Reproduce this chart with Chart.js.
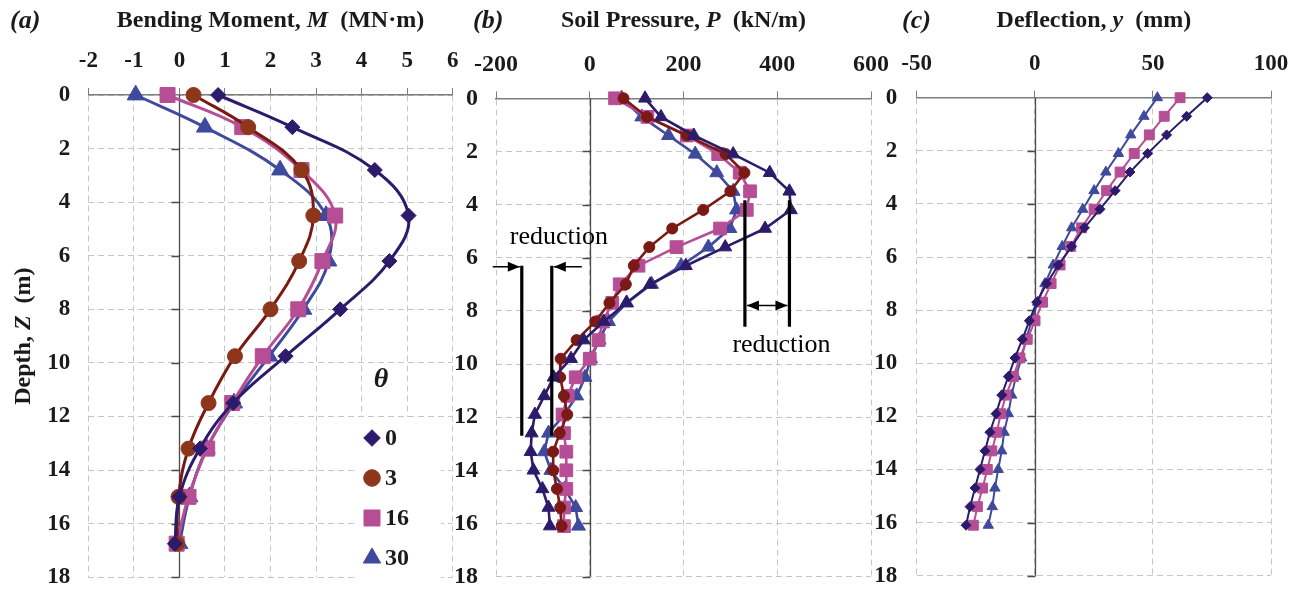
<!DOCTYPE html>
<html>
<head>
<meta charset="utf-8">
<script src="https://cdn.jsdelivr.net/npm/chart.js"></script>
<style>
  html, body { margin: 0; padding: 0; background: #fff; }
  #wrap { position: relative; width: 1307px; height: 609px; }
  #wrap canvas { position: absolute; left: 0; top: 0; }
</style>
</head>
<body>
<div id="wrap">
  <canvas id="chartMoment" width="1307" height="609"></canvas>
  <canvas id="chartPressure" width="1307" height="609"></canvas>
  <canvas id="chartDeflection" width="1307" height="609"></canvas>
</div>
<script>
/* ---------- data ---------- */
// theta cases
const thetaLabels = ['0', '3', '16', '30'];

// (a) bending moment M (MN·m) against depth Z (m)
const depthMoment = [0, 1.2, 2.8, 4.5, 6.2, 8.0, 9.75, 11.5, 13.2, 15.0, 16.75];
const moment0  = [0.85, 2.48, 4.29, 5.03, 4.61, 3.53, 2.33, 1.18, 0.45, 0.0, -0.1];
const moment3  = [0.31, 1.51, 2.68, 2.94, 2.63, 2.0, 1.22, 0.64, 0.2, -0.02, -0.05];
const moment16 = [-0.26, 1.38, 2.68, 3.42, 3.14, 2.61, 1.83, 1.16, 0.61, 0.2, -0.06];
const moment30 = [-0.96, 0.56, 2.21, 3.22, 3.27, 2.72, 1.97, 1.2, 0.6, 0.22, 0.0];

// (b) soil pressure P (kN/m)
const depthPressure = [0, 0.7, 1.4, 2.1, 2.8, 3.5, 4.2, 4.9, 5.6, 6.3, 7.0, 7.7,
                       8.4, 9.1, 9.8, 10.5, 11.2, 11.9, 12.6, 13.3, 14.0, 14.7, 15.4, 16.1];
const pressure0  = [118, 152, 222, 306, 384, 426, 429, 374, 289, 205, 129, 78,
                    30, -13, -40, -77, -97, -117, -124, -126, -120, -101, -88, -85];
const pressure3  = [72, 122, 207, 290, 330, 300, 242, 176, 127, 94, 77, 42,
                    12, -28, -62, -63, -55, -48, -64, -78, -78, -70, -63, -60];
const pressure16 = [54, 123, 207, 274, 320, 342, 335, 278, 185, 104, 64, 48,
                    28, 19, 0, -30, -47, -58, -55, -50, -50, -50, -55, -55];
const pressure30 = [68, 111, 168, 225, 271, 306, 313, 299, 253, 195, 132, 79,
                    40, 20, 2, -10, -28, -54, -88, -97, -83, -53, -30, -24];

// (c) deflection y (mm)
const depthDeflection = [0, 0.7, 1.4, 2.1, 2.8, 3.5, 4.2, 4.9, 5.6, 6.3, 7.0, 7.7,
                         8.4, 9.1, 9.8, 10.5, 11.2, 11.9, 12.6, 13.3, 14.0, 14.7, 15.4, 16.1];
const deflection0  = [73.0, 64.3, 55.8, 47.8, 40.3, 34.0, 27.6, 21.0, 15.6, 10.0, 5.0, 0.8,
                      -2.3, -5.3, -8.4, -11.2, -14.0, -16.4, -19.0, -21.1, -23.2, -25.3, -27.4, -29.1];
const deflection16 = [61.5, 54.8, 48.5, 42.1, 36.1, 30.4, 25.1, 19.8, 15.2, 10.7, 6.9, 3.3,
                      0.1, -3.2, -6.3, -9.1, -12.2, -14.4, -16.1, -18.2, -20.1, -22.1, -24.3, -26.0];
const deflection30 = [51.9, 46.2, 40.6, 35.4, 30.1, 25.1, 20.3, 15.6, 11.6, 7.8, 4.3, 1.2,
                      -1.3, -3.7, -5.6, -8.0, -9.8, -11.2, -13.0, -14.0, -15.5, -16.9, -18.0, -19.7];

// "reduction" markers in (b): [x1, x2, depth top, depth bottom]
const reductionLow  = [-145, -81, 6.3, 12.7];
const reductionPeak = [331, 426, 3.84, 8.6];

/* ---------- styling ---------- */
const NAVY = '#2c1b6b';
const MAROON = '#7a1812';
const BRICK = '#8d361b';
const PINK = '#b64e95';
const BLUE = '#3f4a9c';
const INK = '#1a1a1a';
const SERIF = '"Liberation Serif", "Times New Roman", serif';

function series(label, depths, values, style) {
  return Object.assign({
    label: label,
    data: depths.map((z, i) => ({ x: values[i], y: z })),
    showLine: true,
    clip: false,
    pointBorderWidth: 1
  }, style);
}

// vertical axis line at x = 0 with small ticks pointing left
const zeroAxis = {
  id: 'zeroAxis',
  beforeDatasetsDraw(chart) {
    const { ctx, chartArea: a, scales: { x, y } } = chart;
    const px = Math.round(x.getPixelForValue(0)) + 0.5;
    ctx.save();
    ctx.strokeStyle = '#4a4a4a';
    ctx.lineWidth = 1.3;
    ctx.beginPath();
    ctx.moveTo(px, a.top);
    ctx.lineTo(px, a.bottom);
    for (let z = 2; z <= 18; z += 2) {
      const py = Math.round(y.getPixelForValue(z)) + 0.5;
      ctx.moveTo(px - 8, py);
      ctx.lineTo(px, py);
    }
    ctx.stroke();
    ctx.restore();
  }
};

function drawRich(ctx, parts, x, y, size) {
  parts.forEach(p => {
    ctx.font = (p[1] ? 'italic ' : '') + 'bold ' + size + 'px ' + SERIF;
    ctx.fillText(p[0], x, y);
    x += ctx.measureText(p[0]).width;
  });
}

function richWidth(ctx, parts, size) {
  let w = 0;
  parts.forEach(p => {
    ctx.font = (p[1] ? 'italic ' : '') + 'bold ' + size + 'px ' + SERIF;
    w += ctx.measureText(p[0]).width;
  });
  return w;
}

// panel tag "(a)" and the axis heading above the ticks
function heading(tag, tagX, parts) {
  return {
    id: 'heading',
    afterDraw(chart) {
      const { ctx, chartArea: a } = chart;
      ctx.save();
      ctx.fillStyle = INK;
      ctx.textBaseline = 'alphabetic';
      ctx.textAlign = 'left';
      ctx.font = 'italic bold 26px ' + SERIF;
      ctx.fillText(tag, tagX, 28);
      const w = richWidth(ctx, parts, 24);
      drawRich(ctx, parts, (a.left + a.right) / 2 - w / 2, 27, 24);
      ctx.restore();
    }
  };
}

const depthTitle = {
  id: 'depthTitle',
  afterDraw(chart) {
    const { ctx, chartArea: a } = chart;
    const parts = [['Depth, ', false], ['Z', true], ['  (m)', false]];
    ctx.save();
    ctx.translate(30, (a.top + a.bottom) / 2);
    ctx.rotate(-Math.PI / 2);
    ctx.fillStyle = INK;
    ctx.textBaseline = 'alphabetic';
    const w = richWidth(ctx, parts, 24);
    drawRich(ctx, parts, -w / 2, 0, 24);
    ctx.restore();
  }
};

// theta legend inside panel (a)
const legendRadius = [8.3, 8.3, 11.3, 10];
const thetaLegend = {
  id: 'thetaLegend',
  afterDatasetsDraw(chart) {
    const { ctx } = chart;
    ctx.save();
    ctx.fillStyle = '#fff';
    ctx.fillRect(357, 417, 84, 170);
    ctx.fillRect(368, 364, 26, 32);
    ctx.fillStyle = INK;
    ctx.font = 'italic bold 28px ' + SERIF;
    ctx.textAlign = 'center';
    ctx.textBaseline = 'middle';
    ctx.fillText('θ', 381, 380);
    ctx.textAlign = 'left';
    ctx.font = 'bold 24px ' + SERIF;
    chart.data.datasets.forEach((ds, i) => {
      const y = 438 + i * 40;
      ctx.fillStyle = ds.pointBackgroundColor || ds.backgroundColor;
      ctx.strokeStyle = ds.pointBorderColor || ds.backgroundColor;
      ctx.lineWidth = 1;
      Chart.helpers.drawPoint(ctx, { pointStyle: ds.pointStyle, radius: legendRadius[i], borderWidth: 1, rotation: 0 }, 372, y);
      ctx.fillStyle = INK;
      ctx.fillText(ds.label, 385, y + 1);
    });
    ctx.restore();
  }
};

function arrowHead(ctx, x, y, dir) {
  ctx.beginPath();
  ctx.moveTo(x, y);
  ctx.lineTo(x - dir * 12, y - 5);
  ctx.lineTo(x - dir * 12, y + 5);
  ctx.closePath();
  ctx.fill();
}

// reduction brackets in panel (b)
const reductionMarks = {
  id: 'reductionMarks',
  afterDatasetsDraw(chart) {
    const { ctx, scales: { x, y } } = chart;
    ctx.save();
    ctx.strokeStyle = '#000';
    ctx.fillStyle = '#000';
    ctx.lineWidth = 3.2;
    ctx.beginPath();
    [reductionLow, reductionPeak].forEach(r => {
      const top = y.getPixelForValue(r[2]);
      const bot = y.getPixelForValue(r[3]);
      [r[0], r[1]].forEach(v => {
        const px = x.getPixelForValue(v);
        ctx.moveTo(px, top);
        ctx.lineTo(px, bot);
      });
    });
    ctx.stroke();

    ctx.lineWidth = 1.6;
    // outside arrows pointing in at the low pair
    const ly = y.getPixelForValue(reductionLow[2]) + 1;
    const l1 = x.getPixelForValue(reductionLow[0]);
    const l2 = x.getPixelForValue(reductionLow[1]);
    ctx.beginPath();
    ctx.moveTo(l1 - 29, ly); ctx.lineTo(l1 - 2, ly);
    ctx.moveTo(l2 + 30, ly); ctx.lineTo(l2 + 2, ly);
    ctx.stroke();
    arrowHead(ctx, l1 - 2, ly, 1);
    arrowHead(ctx, l2 + 2, ly, -1);

    // double arrow between the peak pair
    const ry = y.getPixelForValue(7.8);
    const r1 = x.getPixelForValue(reductionPeak[0]);
    const r2 = x.getPixelForValue(reductionPeak[1]);
    ctx.beginPath();
    ctx.moveTo(r1 + 2, ry); ctx.lineTo(r2 - 2, ry);
    ctx.stroke();
    arrowHead(ctx, r1 + 2, ry, -1);
    arrowHead(ctx, r2 - 2, ry, 1);

    ctx.font = '26px ' + SERIF;
    ctx.textAlign = 'center';
    ctx.textBaseline = 'alphabetic';
    ctx.fillText('reduction', x.getPixelForValue(-66), y.getPixelForValue(5.2) + 8);
    ctx.fillText('reduction', x.getPixelForValue(409), y.getPixelForValue(9.24) + 8);
    ctx.restore();
  }
};

function panelOptions(xMin, xMax, xStep, area, xPad, yPad, fontSize) {
  const tickFont = { family: SERIF, size: fontSize, weight: 'bold' };
  return {
    responsive: false,
    animation: false,
    events: [],
    layout: {
      padding: { left: area.left - 60, right: 1307 - area.right, top: 0, bottom: 609 - area.bottom }
    },
    plugins: { legend: { display: false }, tooltip: { enabled: false }, title: { display: false } },
    scales: {
      x: {
        type: 'linear',
        position: 'top',
        min: xMin,
        max: xMax,
        afterFit: s => { s.height = area.top; },
        ticks: { stepSize: xStep, font: tickFont, color: INK, padding: xPad, maxRotation: 0 },
        grid: { color: '#c6c6c6', lineWidth: 1, tickLength: 7, tickColor: '#7d7d7d', tickWidth: 1 },
        border: { display: true, color: '#7d7d7d', width: 1.5, dash: [6, 4] }
      },
      y: {
        type: 'linear',
        reverse: true,
        min: 0,
        max: 18,
        afterFit: s => { s.width = 60; },
        ticks: { stepSize: 2, font: tickFont, color: INK, padding: yPad },
        grid: { color: '#c6c6c6', lineWidth: 1, drawTicks: false },
        border: { display: false, dash: [6, 4] }
      }
    }
  };
}

/* ---------- (a) bending moment ---------- */
const smoothA = { borderWidth: 3, tension: 0.4 };
new Chart(document.getElementById('chartMoment'), {
  type: 'scatter',
  data: {
    datasets: [
      series(thetaLabels[0], depthMoment, moment0, Object.assign({
        borderColor: NAVY, backgroundColor: NAVY, pointStyle: 'rectRot', pointRadius: 7.5 }, smoothA)),
      series(thetaLabels[1], depthMoment, moment3, Object.assign({
        borderColor: MAROON, backgroundColor: BRICK, pointBackgroundColor: BRICK, pointBorderColor: BRICK,
        pointStyle: 'circle', pointRadius: 7.5 }, smoothA)),
      series(thetaLabels[2], depthMoment, moment16, Object.assign({
        borderColor: PINK, backgroundColor: PINK, pointStyle: 'rect', pointRadius: 10.6 }, smoothA)),
      series(thetaLabels[3], depthMoment, moment30, Object.assign({
        borderColor: BLUE, backgroundColor: BLUE, pointStyle: 'triangle', pointRadius: 9.8 }, smoothA))
    ]
  },
  options: panelOptions(-2, 6, 1, { left: 88.3, right: 452.7, top: 95, bottom: 596 }, 13.4, 18, 23),
  plugins: [zeroAxis, thetaLegend, depthTitle,
    heading('(a)', 10, [['Bending Moment, ', false], ['M', true], ['  (MN·m)', false]])]
});

/* ---------- (b) soil pressure ---------- */
const straightB = { borderWidth: 2.6, tension: 0 };
new Chart(document.getElementById('chartPressure'), {
  type: 'scatter',
  data: {
    datasets: [
      series(thetaLabels[0], depthPressure, pressure0, Object.assign({
        borderColor: NAVY, backgroundColor: NAVY, pointStyle: 'triangle', pointRadius: 7.5 }, straightB)),
      series(thetaLabels[1], depthPressure, pressure3, Object.assign({
        borderColor: '#7b1914', backgroundColor: '#7b1914', pointStyle: 'circle', pointRadius: 5.5 }, straightB)),
      series(thetaLabels[2], depthPressure, pressure16, Object.assign({
        borderColor: PINK, backgroundColor: PINK, pointStyle: 'rect', pointRadius: 9 }, straightB)),
      series(thetaLabels[3], depthPressure, pressure30, Object.assign({
        borderColor: BLUE, backgroundColor: BLUE, pointStyle: 'triangle', pointRadius: 8 }, straightB))
    ]
  },
  options: panelOptions(-200, 600, 200, { left: 496, right: 871, top: 98.3, bottom: 597.7 }, 12.2, 18, 24),
  plugins: [zeroAxis, reductionMarks,
    heading('(b)', 473, [['Soil Pressure, ', false], ['P', true], ['  (kN/m)', false]])]
});

/* ---------- (c) deflection ---------- */
const straightC = { borderWidth: 2, tension: 0 };
new Chart(document.getElementById('chartDeflection'), {
  type: 'scatter',
  data: {
    datasets: [
      series(thetaLabels[0], depthDeflection, deflection0, Object.assign({
        borderColor: NAVY, backgroundColor: NAVY, pointStyle: 'rectRot', pointRadius: 5 }, straightC)),
      series(thetaLabels[2], depthDeflection, deflection16, Object.assign({
        borderColor: PINK, backgroundColor: PINK, pointStyle: 'rect', pointRadius: 7 }, straightC)),
      series(thetaLabels[3], depthDeflection, deflection30, Object.assign({
        borderColor: BLUE, backgroundColor: BLUE, pointStyle: 'triangle', pointRadius: 6 }, straightC))
    ]
  },
  options: panelOptions(-50, 100, 50, { left: 916.7, right: 1271, top: 97.7, bottom: 592.7 }, 12.6, 19.5, 23),
  plugins: [zeroAxis,
    heading('(c)', 902, [['Deflection, ', false], ['y', true], ['  (mm)', false]])]
});
</script>
</body>
</html>
